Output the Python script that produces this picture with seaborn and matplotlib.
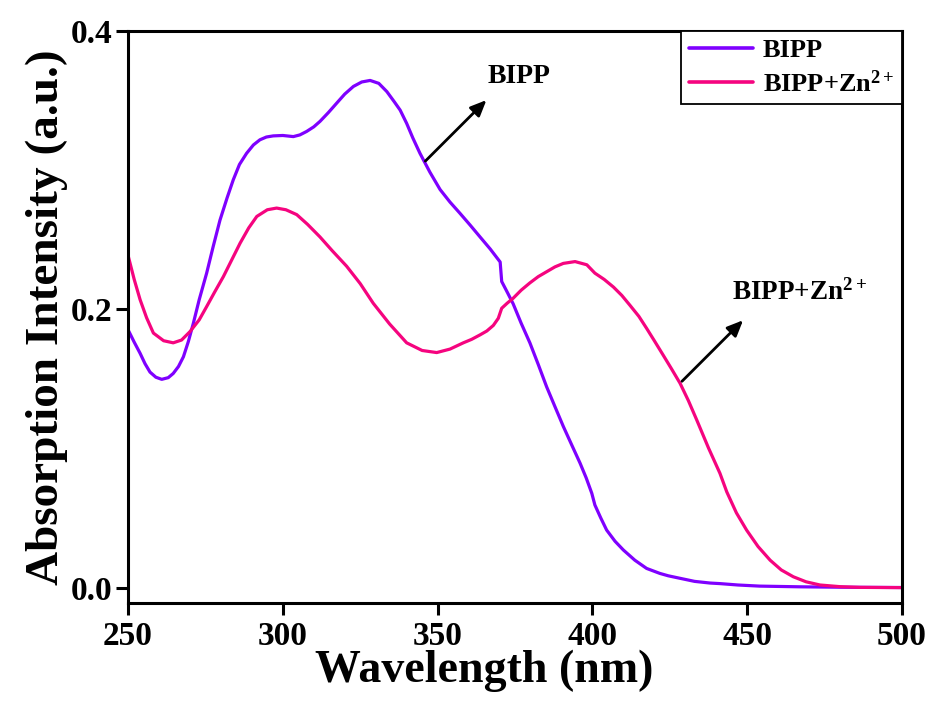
import numpy as np
import pandas as pd
import matplotlib
matplotlib.use("Agg")
import matplotlib.pyplot as plt
import seaborn as sns

# ---- data ----
bipp_wl = [250.1, 252.0, 253.9, 255.5, 257.1, 259.0, 260.9, 263.0, 264.6, 266.3,
           267.9, 269.5, 271.1, 273.0, 275.4, 277.5, 279.7, 282.0, 284.0, 286.0,
           288.3, 290.5, 292.6, 294.7, 296.9, 300.0, 303.4, 305.5, 307.7, 310.0,
           312.0, 314.7, 317.4, 320.0, 322.8, 325.5, 328.2, 331.0, 333.6, 336.0,
           337.9, 340.0, 342.0, 344.3, 347.5, 350.8, 354.0, 357.2, 360.5, 363.7,
           367.0, 370.2, 370.7, 372.5, 374.4, 377.0, 379.8, 382.5, 385.2, 387.9,
           390.6, 393.3, 396.0, 398.0, 399.8, 400.8, 402.7, 404.6, 407.3, 410.0,
           413.7, 417.5, 421.8, 424.5, 428.3, 433.0, 438.0, 441.2, 447.0, 454.0,
           467.0, 480.0, 500.0]
bipp_abs = [0.185, 0.1765, 0.1685, 0.161, 0.155, 0.1513, 0.1498, 0.151, 0.154, 0.159,
            0.166, 0.177, 0.190, 0.207, 0.226, 0.245, 0.264, 0.280, 0.293, 0.304,
            0.312, 0.318, 0.3217, 0.3237, 0.3245, 0.3248, 0.324, 0.3252, 0.3277, 0.3310,
            0.3349, 0.3412, 0.348, 0.3545, 0.360, 0.3632, 0.3643, 0.3622, 0.3563, 0.3490,
            0.343, 0.3335, 0.3230, 0.312, 0.2985, 0.286, 0.2770, 0.269, 0.2605, 0.252,
            0.2433, 0.234, 0.220, 0.2123, 0.204, 0.190, 0.176, 0.1605, 0.1445, 0.1302,
            0.116, 0.1028, 0.0897, 0.0790, 0.068, 0.0596, 0.0503, 0.0416, 0.0336, 0.0273,
            0.0200, 0.0141, 0.0105, 0.0088, 0.0070, 0.0048, 0.0036, 0.0032, 0.0022, 0.0014,
            0.0009, 0.0006, 0.0004]

zn_wl = [250.1, 252.0, 253.9, 256.0, 258.2, 261.5, 264.6, 267.3, 270.0, 273.0,
         275.4, 278.0, 280.8, 283.5, 286.2, 289.0, 291.6, 295.0, 298.0, 301.0,
         304.5, 308.0, 312.0, 316.0, 320.6, 325.0, 329.2, 334.5, 340.0, 345.0,
         349.7, 354.0, 358.3, 361.0, 363.7, 365.9, 368.0, 369.6, 370.7, 372.5,
         374.4, 377.0, 379.8, 382.5, 385.2, 387.9, 390.6, 394.4, 398.2, 400.8,
         403.8, 406.8, 409.5, 412.1, 415.0, 417.5, 420.0, 422.9, 425.5, 428.3,
         431.0, 433.7, 437.5, 441.2, 443.4, 446.5, 449.8, 453.5, 457.4, 461.0,
         464.9, 469.0, 473.5, 480.0, 486.4, 500.0]
zn_abs = [0.238, 0.2215, 0.207, 0.194, 0.183, 0.1775, 0.176, 0.178, 0.184, 0.1925,
          0.202, 0.2125, 0.2235, 0.2355, 0.2475, 0.2585, 0.2667, 0.2715, 0.2727, 0.2715,
          0.268, 0.261, 0.252, 0.242, 0.231, 0.2185, 0.2044, 0.1895, 0.176, 0.1705,
          0.169, 0.1715, 0.176, 0.1785, 0.1817, 0.1845, 0.1885, 0.1936, 0.2008, 0.2045,
          0.208, 0.2138, 0.219, 0.2235, 0.227, 0.2305, 0.233, 0.2343, 0.232, 0.226,
          0.2215, 0.216, 0.2100, 0.203, 0.1950, 0.1864, 0.1775, 0.167, 0.1575, 0.147,
          0.1345, 0.1206, 0.1005, 0.0823, 0.0690, 0.0540, 0.0416, 0.0298, 0.020, 0.0130,
          0.0081, 0.0045, 0.0022, 0.0010, 0.0005, 0.0003]

series_names = ["BIPP", "BIPP+Zn$^{\\mathbf{2+}}$"]
colors = ["#7F00FF", "#F5047F"]
x_ticks = [250, 300, 350, 400, 450, 500]
y_ticks = [0.0, 0.2, 0.4]
y_tick_labels = ["0.0", "0.2", "0.4"]

df = pd.concat([
    pd.DataFrame({"Wavelength": bipp_wl, "Absorption": bipp_abs, "Sample": series_names[0]}),
    pd.DataFrame({"Wavelength": zn_wl, "Absorption": zn_abs, "Sample": series_names[1]}),
], ignore_index=True)

sns.set_theme(style="ticks", rc={
    "text.color": "black", "axes.labelcolor": "black",
    "xtick.color": "black", "ytick.color": "black", "axes.edgecolor": "black",
})
plt.rcParams["font.family"] = ["Liberation Serif", "DejaVu Serif"]
plt.rcParams["font.weight"] = "bold"
plt.rcParams["mathtext.fontset"] = "custom"
plt.rcParams["mathtext.rm"] = "Liberation Serif:bold"
plt.rcParams["mathtext.bf"] = "Liberation Serif:bold"
plt.rcParams["mathtext.it"] = "Liberation Serif:bold"

fig = plt.figure(figsize=(9.33, 7.04), dpi=100)
fig.patch.set_facecolor("white")
ax = fig.add_axes([0.1372, 0.1439, 0.8296, 0.8125])

sns.lineplot(data=df, x="Wavelength", y="Absorption", hue="Sample",
             palette=dict(zip(series_names, colors)), linewidth=2.3,
             sort=True, estimator=None, ax=ax)
for ln in ax.get_lines():
    ln.set_solid_joinstyle("round")
    ln.set_solid_capstyle("round")

ax.set_xlim(250, 500)
ax.set_ylim(-0.0105, 0.4)
ax.set_xticks(x_ticks)
ax.set_xticklabels([str(t) for t in x_ticks])
ax.set_yticks(y_ticks)
ax.set_yticklabels(y_tick_labels)

for sp in ax.spines.values():
    sp.set_linewidth(2.2)
    sp.set_color("black")
    sp.set_visible(True)
ax.tick_params(axis="both", which="major", direction="out", length=8.5, width=2.2,
               labelsize=24, color="black", labelcolor="black")
ax.tick_params(axis="x", pad=5)
ax.tick_params(axis="y", pad=3)
for lab in ax.get_xticklabels() + ax.get_yticklabels():
    lab.set_fontweight("bold")

ax.set_xlabel("Wavelength (nm)", fontsize=33, fontweight="bold")
ax.xaxis.set_label_coords(0.46, -0.082)
ax.set_ylabel("Absorption Intensity (a.u.)", fontsize=34, fontweight="bold", labelpad=2)

leg = ax.legend(loc="upper right", fontsize=19, frameon=True, fancybox=False,
                edgecolor="black", framealpha=1, borderaxespad=0, handlelength=2.45,
                borderpad=0.3, labelspacing=0.3, handletextpad=0.35)
leg.get_frame().set_linewidth(1.3)
for ln in leg.get_lines():
    ln.set_linewidth(2.6)
for t in leg.get_texts():
    t.set_fontweight("bold")

# annotations with arrows
ax.annotate("", xy=(366.4, 0.3516), xytext=(345.4, 0.305),
            arrowprops=dict(arrowstyle="-|>,head_length=0.8,head_width=0.35", color="black", lw=2))
ax.text(366.0, 0.367, "BIPP", fontsize=20, fontweight="bold", va="center", ha="left")

ax.annotate("", xy=(449.3, 0.1936), xytext=(428.3, 0.147),
            arrowprops=dict(arrowstyle="-|>,head_length=0.8,head_width=0.35", color="black", lw=2))
ax.text(445.0, 0.212, "BIPP+Zn$^{\\mathbf{2+}}$", fontsize=19.5, fontweight="bold",
        va="center", ha="left")

fig.savefig("out.png", dpi=100, facecolor="white")
